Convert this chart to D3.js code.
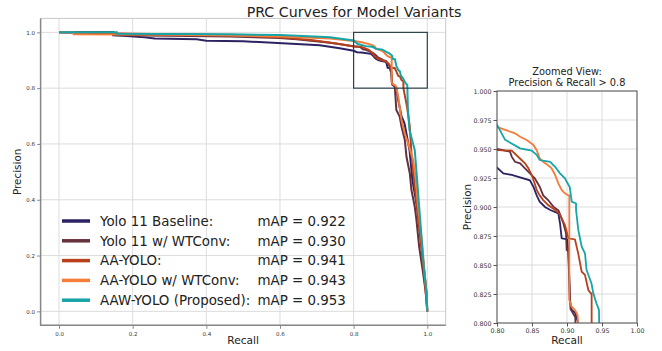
<!DOCTYPE html>
<html>
<head>
<meta charset="utf-8">
<script src="https://cdn.jsdelivr.net/npm/d3@7"></script>
<style>
  html, body { margin: 0; padding: 0; background: #fff; }
  svg { display: block; font-family: "DejaVu Sans", sans-serif; }
</style>
</head>
<body>
<svg id="chart" width="662" height="351"></svg>
<script>
// Series labels / mAP
const seriesNames = ['Yolo 11 Baseline:', 'Yolo 11 w/ WTConv:', 'AA-YOLO:', 'AA-YOLO w/ WTConv:', 'AAW-YOLO (Proposed):'];
const seriesMap = ['0.922', '0.930', '0.941', '0.943', '0.953'];
const seriesColors = ['#2c2363', '#66303d', '#b8411c', '#f47d3b', '#17a4a6'];

const mainTicks = [0, 0.2, 0.4, 0.6, 0.8, 1.0];
const zoomTicksX = [0.80, 0.85, 0.90, 0.95, 1.00];
const zoomTicksY = [0.800, 0.825, 0.850, 0.875, 0.900, 0.925, 0.950, 0.975, 1.000];

// Yolo 11 Baseline
const baselineRecall = [0, 0.147, 0.147, 0.233, 0.26, 0.374, 0.40, 0.50, 0.645, 0.708, 0.762, 0.80, 0.809, 0.821, 0.847, 0.852, 0.8567, 0.861, 0.8686, 0.876, 0.8876, 0.89, 0.8924, 0.9005, 0.902, 0.904, 0.9067, 0.9114, 0.916, 0.921, 0.93, 0.938, 0.945, 0.952, 0.9596, 0.972, 0.98, 0.9905, 0.998, 1.0];
const baselinePrecision = [1.0, 1.0, 0.99, 0.982, 0.978, 0.975, 0.97, 0.968, 0.958, 0.954, 0.9427, 0.934, 0.929, 0.9276, 0.923, 0.9175, 0.910, 0.9046, 0.900, 0.8974, 0.8945, 0.886, 0.873, 0.872, 0.86, 0.82, 0.8112, 0.809, 0.80, 0.757, 0.70, 0.674, 0.626, 0.575, 0.47, 0.375, 0.28, 0.16, 0.065, 0.0];

// Yolo 11 w/ WTConv
const wtconvRecall = [0, 0.147, 0.147, 0.3, 0.464, 0.6, 0.645, 0.736, 0.80, 0.8186, 0.821, 0.8257, 0.833, 0.84, 0.847, 0.854, 0.861, 0.866, 0.873, 0.8805, 0.888, 0.89, 0.8948, 0.8986, 0.8995, 0.902, 0.905, 0.9118, 0.916, 0.925, 0.930, 0.939, 0.9435, 0.9525, 0.957, 0.966, 0.9706, 0.978, 0.9887, 0.996, 1.0];
const wtconvPrecision = [1.0, 1.0, 0.99, 0.988, 0.985, 0.98, 0.975, 0.963, 0.95, 0.9477, 0.9434, 0.939, 0.9377, 0.9334, 0.929, 0.9247, 0.9175, 0.910, 0.906, 0.9003, 0.897, 0.8936, 0.886, 0.8773, 0.863, 0.862, 0.812, 0.805, 0.7215, 0.698, 0.662, 0.614, 0.554, 0.495, 0.435, 0.375, 0.327, 0.2315, 0.136, 0.065, 0.0];

// AA-YOLO
const aaRecall = [0, 0.2, 0.464, 0.6, 0.69, 0.762, 0.80, 0.821, 0.835, 0.84, 0.8448, 0.8495, 0.854, 0.8567, 0.861, 0.866, 0.873, 0.883, 0.89, 0.897, 0.902, 0.9114, 0.916, 0.921, 0.9257, 0.9305, 0.934, 0.9352, 0.9352, 0.945, 0.9525, 0.957, 0.966, 0.972, 0.984, 0.993, 1.0];
const aaPrecision = [1.0, 0.995, 0.9903, 0.982, 0.972, 0.958, 0.949, 0.9486, 0.9405, 0.9377, 0.9334, 0.9276, 0.920, 0.9147, 0.910, 0.906, 0.9017, 0.8974, 0.8936, 0.8845, 0.873, 0.872, 0.860, 0.8442, 0.8414, 0.8284, 0.8256, 0.8256, 0.80, 0.733, 0.662, 0.566, 0.447, 0.375, 0.232, 0.112, 0.0];

// AA-YOLO w/ WTConv
const aawtRecall = [0, 0.04, 0.04, 0.3, 0.464, 0.6, 0.736, 0.80, 0.8138, 0.8257, 0.833, 0.8424, 0.852, 0.8567, 0.861, 0.866, 0.873, 0.878, 0.883, 0.8876, 0.8924, 0.897, 0.902, 0.9033, 0.9033, 0.9067, 0.9114, 0.915, 0.916, 0.921, 0.930, 0.939, 0.948, 0.9617, 0.969, 0.975, 0.984, 0.993, 0.998, 1.0];
const aawtPrecision = [1.0, 1.0, 0.993, 0.991, 0.989, 0.985, 0.978, 0.969, 0.966, 0.9635, 0.9606, 0.9578, 0.9535, 0.949, 0.942, 0.939, 0.936, 0.9334, 0.9276, 0.9204, 0.9147, 0.9118, 0.910, 0.910, 0.8198, 0.814, 0.8112, 0.807, 0.80, 0.77, 0.6862, 0.6373, 0.602, 0.542, 0.47, 0.375, 0.267, 0.136, 0.065, 0.0];

// AAW-YOLO (Proposed)
const aawRecall = [0, 0.157, 0.157, 0.464, 0.6, 0.736, 0.80, 0.8114, 0.833, 0.8495, 0.8567, 0.861, 0.876, 0.883, 0.89, 0.897, 0.904, 0.9067, 0.9129, 0.9129, 0.9162, 0.921, 0.9257, 0.928, 0.935, 0.9376, 0.942, 0.9457, 0.946, 0.9471, 0.9516, 0.966, 0.9725, 0.978, 0.9843, 0.9913, 0.998, 1.0];
const aawPrecision = [1.0, 1.0, 0.995, 0.993, 0.9903, 0.982, 0.971, 0.958, 0.9506, 0.9486, 0.945, 0.9405, 0.939, 0.9347, 0.929, 0.9247, 0.917, 0.9046, 0.903, 0.8974, 0.880, 0.8658, 0.860, 0.8457, 0.834, 0.8256, 0.817, 0.8112, 0.80, 0.733, 0.650, 0.578, 0.4706, 0.375, 0.267, 0.148, 0.0645, 0.0];

const recalls = [baselineRecall, wtconvRecall, aaRecall, aawtRecall, aawRecall];
const precisions = [baselinePrecision, wtconvPrecision, aaPrecision, aawtPrecision, aawPrecision];
const series = recalls.map((r, i) => r.map((v, j) => ({ r: v, p: precisions[i][j] })));

const svg = d3.select('#chart');

// ---- main axes ----
const main = { left: 40.6, right: 445.7, top: 18.4, bottom: 325.3 };
const x = d3.scaleLinear().domain([-0.05, 1.05]).range([main.left, main.right]);
const y = d3.scaleLinear().domain([-0.05, 1.05]).range([main.bottom, main.top]);

const gMain = svg.append('g');

// grid
gMain.append('g')
  .selectAll('line.gx')
  .data(mainTicks)
  .join('line')
  .attr('x1', (d) => x(d)).attr('x2', (d) => x(d))
  .attr('y1', main.top).attr('y2', main.bottom)
  .attr('stroke', '#dcdcdc').attr('stroke-width', 1);
gMain.append('g')
  .selectAll('line.gy')
  .data(mainTicks)
  .join('line')
  .attr('y1', (d) => y(d)).attr('y2', (d) => y(d))
  .attr('x1', main.left).attr('x2', main.right)
  .attr('stroke', '#dcdcdc').attr('stroke-width', 1);

// axes
gMain.append('g')
  .attr('transform', `translate(0,${main.bottom})`)
  .call(d3.axisBottom(x).tickValues(mainTicks).tickFormat(d3.format('.1f')).tickSize(3.5).tickPadding(3))
  .call((g) => g.select('.domain').remove())
  .call((g) => g.selectAll('.tick line').attr('stroke', '#888'))
  .call((g) => g.selectAll('.tick text').attr('font-size', 5.5).attr('fill', '#333').attr('font-family', 'DejaVu Sans'));
gMain.append('g')
  .attr('transform', `translate(${main.left},0)`)
  .call(d3.axisLeft(y).tickValues(mainTicks).tickFormat(d3.format('.1f')).tickSize(3.5).tickPadding(2))
  .call((g) => g.select('.domain').remove())
  .call((g) => g.selectAll('.tick line').attr('stroke', '#888'))
  .call((g) => g.selectAll('.tick text').attr('font-size', 5.5).attr('fill', '#333').attr('font-family', 'DejaVu Sans'));

// spines
gMain.append('rect')
  .attr('x', main.left).attr('y', main.top)
  .attr('width', main.right - main.left).attr('height', main.bottom - main.top)
  .attr('fill', 'none').attr('stroke', '#c8c8c8').attr('stroke-width', 1);
gMain.append('path')
  .attr('d', `M${main.left},${main.top}V${main.bottom}H${main.right}`)
  .attr('fill', 'none').attr('stroke', '#888').attr('stroke-width', 1.5);

const line = d3.line().x((d) => x(d.r)).y((d) => y(d.p));
gMain.append('g')
  .selectAll('path')
  .data(series)
  .join('path')
  .attr('fill', 'none')
  .attr('stroke', (d, i) => seriesColors[i])
  .attr('stroke-width', 2)
  .attr('stroke-linejoin', 'miter')
  .attr('d', line);

// zoom region box
gMain.append('rect')
  .attr('x', x(0.8)).attr('y', y(1.0))
  .attr('width', x(1.0) - x(0.8)).attr('height', y(0.8) - y(1.0))
  .attr('fill', 'none').attr('stroke', '#1d3640').attr('stroke-width', 1.1);

// titles
svg.append('text')
  .attr('x', 354).attr('y', 17)
  .attr('text-anchor', 'middle')
  .attr('font-size', 14.2).attr('fill', '#222')
  .text('PRC Curves for Model Variants');
svg.append('text')
  .attr('x', (main.left + main.right) / 2).attr('y', 344)
  .attr('text-anchor', 'middle')
  .attr('font-size', 10.6).attr('fill', '#222')
  .text('Recall');
svg.append('text')
  .attr('transform', `translate(21,${(main.top + main.bottom) / 2}) rotate(-90)`)
  .attr('text-anchor', 'middle')
  .attr('font-size', 10.4).attr('fill', '#222')
  .text('Precision');

// legend
const legend = svg.append('g');
const rows = legend.selectAll('g')
  .data(seriesNames)
  .join('g')
  .attr('transform', (d, i) => `translate(0,${221 + i * 19.8})`);
rows.append('line')
  .attr('x1', 62).attr('x2', 90)
  .attr('stroke', (d, i) => seriesColors[i])
  .attr('stroke-width', 3.5);
rows.append('text')
  .attr('x', 100).attr('dy', '0.36em')
  .attr('font-size', 13.4).attr('fill', '#222')
  .text((d) => d);
rows.append('text')
  .attr('x', 257.5).attr('dy', '0.36em')
  .attr('font-size', 13.4).attr('fill', '#222')
  .text((d, i) => `mAP = ${seriesMap[i]}`);

// ---- zoomed inset ----
const ins = { left: 497, right: 637, top: 91, bottom: 323 };
const zx = d3.scaleLinear().domain([0.8, 1.0]).range([ins.left, ins.right]);
const zy = d3.scaleLinear().domain([0.8, 1.0]).range([ins.bottom, ins.top]);
const gIns = svg.append('g');

gIns.append('defs').append('clipPath').attr('id', 'insClip')
  .append('rect')
  .attr('x', ins.left).attr('y', ins.top)
  .attr('width', ins.right - ins.left).attr('height', ins.bottom - ins.top);

gIns.append('g')
  .selectAll('line')
  .data(zoomTicksX)
  .join('line')
  .attr('x1', (d) => zx(d)).attr('x2', (d) => zx(d))
  .attr('y1', ins.top).attr('y2', ins.bottom)
  .attr('stroke', '#dcdcdc');
gIns.append('g')
  .selectAll('line')
  .data(zoomTicksY)
  .join('line')
  .attr('y1', (d) => zy(d)).attr('y2', (d) => zy(d))
  .attr('x1', ins.left).attr('x2', ins.right)
  .attr('stroke', '#dcdcdc');

gIns.append('g')
  .attr('transform', `translate(0,${ins.bottom})`)
  .call(d3.axisBottom(zx).tickValues(zoomTicksX).tickFormat(d3.format('.2f')).tickSize(3.5).tickPadding(2.5))
  .call((g) => g.select('.domain').remove())
  .call((g) => g.selectAll('.tick line').attr('stroke', '#555'))
  .call((g) => g.selectAll('.tick text').attr('font-size', 6.3).attr('fill', '#333').attr('font-family', 'DejaVu Sans'));
gIns.append('g')
  .attr('transform', `translate(${ins.left},0)`)
  .call(d3.axisLeft(zy).tickValues(zoomTicksY).tickFormat(d3.format('.3f')).tickSize(3.5).tickPadding(2))
  .call((g) => g.select('.domain').remove())
  .call((g) => g.selectAll('.tick line').attr('stroke', '#555'))
  .call((g) => g.selectAll('.tick text').attr('font-size', 6.3).attr('fill', '#333').attr('font-family', 'DejaVu Sans'));

const zline = d3.line().x((d) => zx(d.r)).y((d) => zy(d.p));
gIns.append('g')
  .attr('clip-path', 'url(#insClip)')
  .selectAll('path')
  .data(series)
  .join('path')
  .attr('fill', 'none')
  .attr('stroke', (d, i) => seriesColors[i])
  .attr('stroke-width', 1.8)
  .attr('d', zline);

gIns.append('rect')
  .attr('x', ins.left).attr('y', ins.top)
  .attr('width', ins.right - ins.left).attr('height', ins.bottom - ins.top)
  .attr('fill', 'none').attr('stroke', '#555').attr('stroke-width', 1);

gIns.append('text')
  .attr('x', (ins.left + ins.right) / 2).attr('y', 75)
  .attr('text-anchor', 'middle').attr('font-size', 9.8).attr('fill', '#222')
  .text('Zoomed View:');
gIns.append('text')
  .attr('x', (ins.left + ins.right) / 2).attr('y', 86)
  .attr('text-anchor', 'middle').attr('font-size', 9.8).attr('fill', '#222')
  .text('Precision & Recall > 0.8');
gIns.append('text')
  .attr('x', (ins.left + ins.right) / 2).attr('y', 344)
  .attr('text-anchor', 'middle').attr('font-size', 10.6).attr('fill', '#222')
  .text('Recall');
gIns.append('text')
  .attr('transform', `translate(471,${(ins.top + ins.bottom) / 2}) rotate(-90)`)
  .attr('text-anchor', 'middle').attr('font-size', 10.4).attr('fill', '#222')
  .text('Precision');
</script>
</body>
</html>
